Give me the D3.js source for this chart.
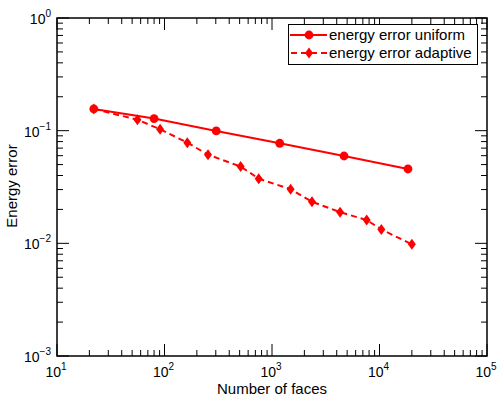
<!DOCTYPE html>
<html>
<head>
<meta charset="utf-8">
<script src="https://cdn.jsdelivr.net/npm/d3@7"></script>
<style>
  body { margin: 0; background: #fff; }
  svg { font-family: "Liberation Sans", Arial, sans-serif; }
</style>
</head>
<body>
<div id="chart"></div>
<script>
const width = 499;
const height = 396;
const marginTop = 18;
const marginRight = 12;
const marginBottom = 40;
const marginLeft = 57;

// data
const uniformFaces = [22, 80, 303, 1180, 4680, 18400];
const uniformError = [0.156, 0.128, 0.0995, 0.0773, 0.0596, 0.0457];

const adaptiveFaces = [22, 56, 91, 163, 254, 511, 752, 1490, 2355, 4300, 7600, 10400, 20000];
const adaptiveError = [0.156, 0.125, 0.103, 0.0783, 0.0612, 0.048, 0.0375, 0.0302, 0.0234, 0.0189, 0.0161, 0.0133, 0.0098];

const xTickExp = [1, 2, 3, 4, 5];
const yTickExp = [-3, -2, -1, 0];

const seriesNames = ["energy error uniform", "energy error adaptive"];

const uniform = uniformFaces.map((f, i) => ({x: f, y: uniformError[i]}));
const adaptive = adaptiveFaces.map((f, i) => ({x: f, y: adaptiveError[i]}));

const svg = d3.select("#chart")
    .append("svg")
    .attr("width", width)
    .attr("height", height);

const xScale = d3.scaleLog()
    .domain([10, 1e5])
    .range([marginLeft, width - marginRight]);

const yScale = d3.scaleLog()
    .domain([1e-3, 1])
    .range([height - marginBottom, marginTop]);

const x0 = xScale.range()[0], x1 = xScale.range()[1];
const y0 = yScale.range()[0], y1 = yScale.range()[1];

// minor and major ticks
const xMinor = [], yMinor = [];
for (let e = 1; e < 5; e++) for (let m = 2; m <= 9; m++) xMinor.push(m * Math.pow(10, e));
for (let e = -3; e < 0; e++) for (let m = 2; m <= 9; m++) yMinor.push(m * Math.pow(10, e));

const ticks = svg.append("g").attr("stroke", "#000").attr("stroke-width", 1);

xMinor.forEach(v => {
    const x = xScale(v);
    ticks.append("line").attr("x1", x).attr("x2", x).attr("y1", y0).attr("y2", y0 - 6);
    ticks.append("line").attr("x1", x).attr("x2", x).attr("y1", y1).attr("y2", y1 + 6);
});
xTickExp.forEach(e => {
    const x = xScale(Math.pow(10, e));
    ticks.append("line").attr("x1", x).attr("x2", x).attr("y1", y0).attr("y2", y0 - 12);
    ticks.append("line").attr("x1", x).attr("x2", x).attr("y1", y1).attr("y2", y1 + 12);
});
yMinor.forEach(v => {
    const y = yScale(v);
    ticks.append("line").attr("x1", x0).attr("x2", x0 + 6).attr("y1", y).attr("y2", y);
    ticks.append("line").attr("x1", x1).attr("x2", x1 - 6).attr("y1", y).attr("y2", y);
});
yTickExp.forEach(e => {
    const y = yScale(Math.pow(10, e));
    ticks.append("line").attr("x1", x0).attr("x2", x0 + 12).attr("y1", y).attr("y2", y);
    ticks.append("line").attr("x1", x1).attr("x2", x1 - 12).attr("y1", y).attr("y2", y);
});

// frame
svg.append("rect")
    .attr("x", x0)
    .attr("y", y1)
    .attr("width", x1 - x0)
    .attr("height", y0 - y1)
    .attr("fill", "none")
    .attr("stroke", "#000")
    .attr("stroke-width", 1.5);

// tick labels
xTickExp.forEach(e => {
    const t = svg.append("text")
        .attr("x", xScale(Math.pow(10, e)) - 1)
        .attr("y", y0 + 21)
        .attr("text-anchor", "middle")
        .attr("font-size", 14);
    t.append("tspan").text("10");
    t.append("tspan").attr("dy", -7).attr("font-size", 10).text(e);
});
yTickExp.forEach(e => {
    const t = svg.append("text")
        .attr("x", x0 - 6)
        .attr("y", yScale(Math.pow(10, e)) + 6)
        .attr("text-anchor", "end")
        .attr("font-size", 14);
    t.append("tspan").text("10");
    t.append("tspan").attr("dy", -7).attr("font-size", 10).text(e === 0 ? "0" : "\u2212" + (-e));
});

// axis titles
svg.append("text")
    .attr("x", (x0 + x1) / 2)
    .attr("y", height - 2)
    .attr("text-anchor", "middle")
    .attr("font-size", 15)
    .text("Number of faces");

svg.append("text")
    .attr("transform", "rotate(-90)")
    .attr("x", -186)
    .attr("y", 17)
    .attr("text-anchor", "middle")
    .attr("font-size", 15)
    .text("Energy error");

const line = d3.line()
    .x(d => xScale(d.x))
    .y(d => yScale(d.y));

const red = "#ff0000";

svg.append("path")
    .datum(adaptive)
    .attr("fill", "none")
    .attr("stroke", red)
    .attr("stroke-width", 2)
    .attr("stroke-dasharray", "6,4")
    .attr("d", line);

svg.append("path")
    .datum(uniform)
    .attr("fill", "none")
    .attr("stroke", red)
    .attr("stroke-width", 2)
    .attr("d", line);

function diamond(cx, cy) {
    return `M${cx},${cy - 5.5}L${cx + 4},${cy}L${cx},${cy + 5.5}L${cx - 4},${cy}Z`;
}

svg.append("g")
    .selectAll("path")
    .data(adaptive)
    .join("path")
    .attr("d", d => diamond(xScale(d.x), yScale(d.y)))
    .attr("fill", red);

svg.append("g")
    .selectAll("circle")
    .data(uniform)
    .join("circle")
    .attr("cx", d => xScale(d.x))
    .attr("cy", d => yScale(d.y))
    .attr("r", 4.4)
    .attr("fill", red);

// legend
const lg = svg.append("g");
lg.append("rect")
    .attr("x", 288.5)
    .attr("y", 24.5)
    .attr("width", 189)
    .attr("height", 40)
    .attr("fill", "#fff")
    .attr("stroke", "#000")
    .attr("stroke-width", 1);

const rowY = [35, 53];
lg.append("line")
    .attr("x1", 290).attr("x2", 327)
    .attr("y1", rowY[0]).attr("y2", rowY[0])
    .attr("stroke", red).attr("stroke-width", 2);
lg.append("circle")
    .attr("cx", 309).attr("cy", rowY[0]).attr("r", 4.4).attr("fill", red);
lg.append("line")
    .attr("x1", 291).attr("x2", 327)
    .attr("y1", rowY[1]).attr("y2", rowY[1])
    .attr("stroke", red).attr("stroke-width", 2)
    .attr("stroke-dasharray", "6,4");
lg.append("path")
    .attr("d", diamond(309, rowY[1]))
    .attr("fill", red);

seriesNames.forEach((name, i) => {
    lg.append("text")
        .attr("x", 329)
        .attr("y", rowY[i] + 5)
        .attr("font-size", 15)
        .text(name);
});
</script>
</body>
</html>
